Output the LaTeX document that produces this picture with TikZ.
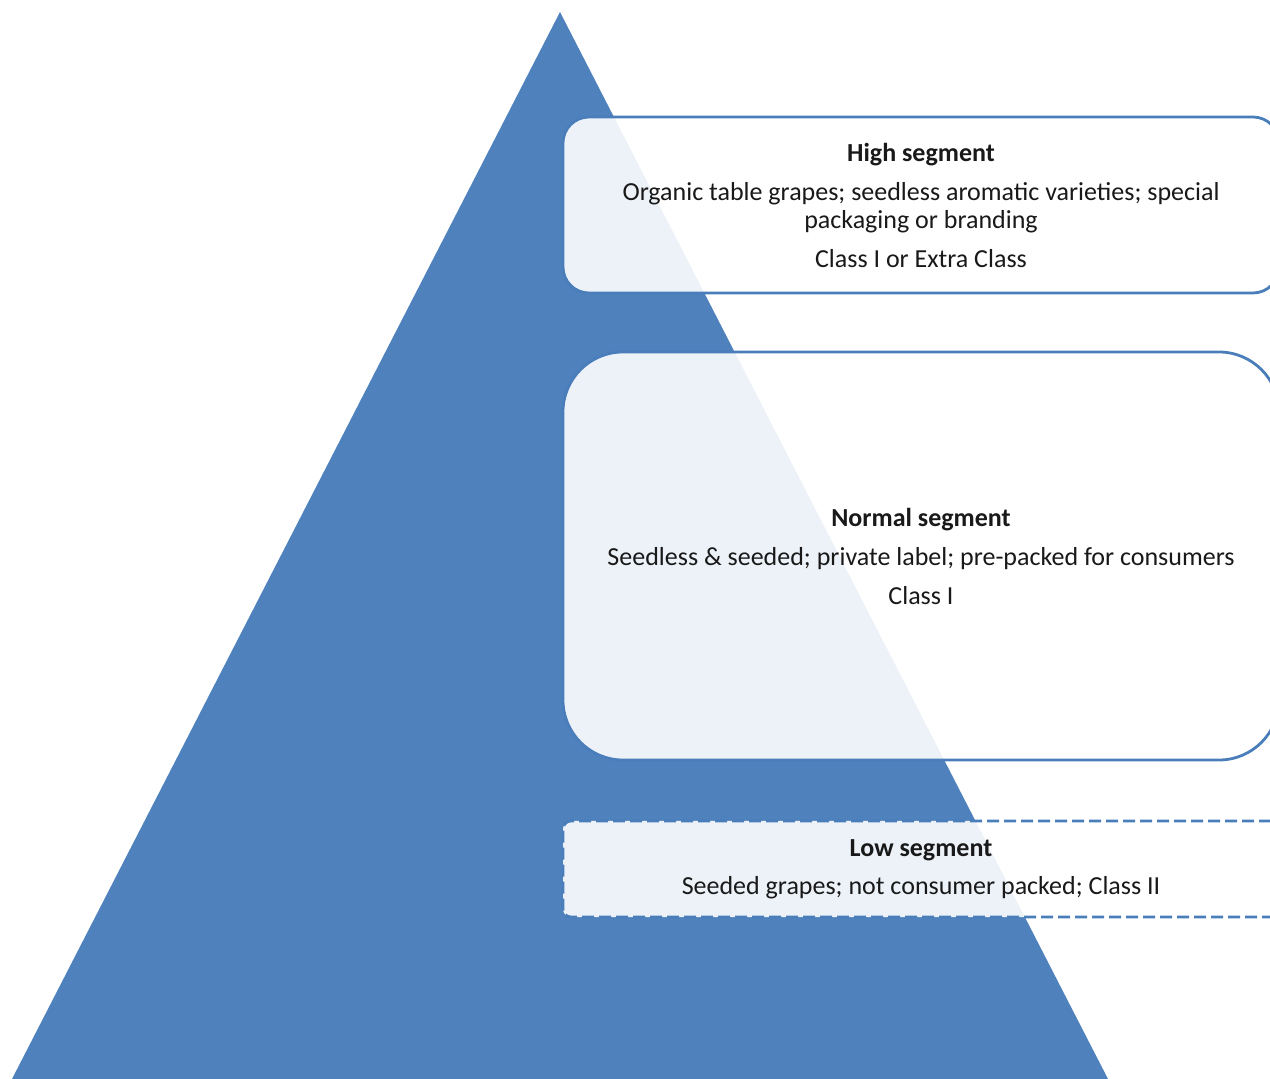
\documentclass[tikz,border=0pt]{standalone}
\usepackage{fontspec}
\setmainfont{Carlito}
\usepackage{tikz}
\usetikzlibrary{calc}

\definecolor{pyrblue}{HTML}{4F81BD}
\definecolor{edgeblue}{HTML}{4A7EBB}

\begin{document}
\begin{tikzpicture}[x=0.5pt,y=-0.5pt]

  \tikzstyle{segbox}=[draw=edgeblue,line width=1.4pt,fill=white,fill opacity=0.9,text opacity=1,
                      shape=rectangle,minimum width=358pt,align=center,text=black!90,
                      font=\fontsize{13}{14}\selectfont]

  \useasboundingbox (0,0) rectangle (1270,1079);

  % pyramid
  \fill[pyrblue] (560,12) -- (12,1079) -- (1108,1079) -- cycle;

  \node[segbox,minimum height=88pt,rounded corners=13pt] (high) at (921,205)
    {\textbf{High segment}\\[5.5pt]
     Organic table grapes; seedless aromatic varieties; special\\
     packaging or branding\\[5.5pt]
     Class I or Extra Class};

  \node[segbox,minimum height=204pt,rounded corners=30pt] (normal) at (921,556)
    {\textbf{Normal segment}\\[5.5pt]
     Seedless \& seeded; private label; pre-packed for consumers\\[5.5pt]
     Class I};

  \node[segbox,minimum height=48pt,rounded corners=4pt,dash pattern=on 6pt off 2.5pt] (low) at (921,869)
    {\textbf{Low segment}\\[5pt]
     Seeded grapes; not consumer packed; Class II};
\end{tikzpicture}
\end{document}
